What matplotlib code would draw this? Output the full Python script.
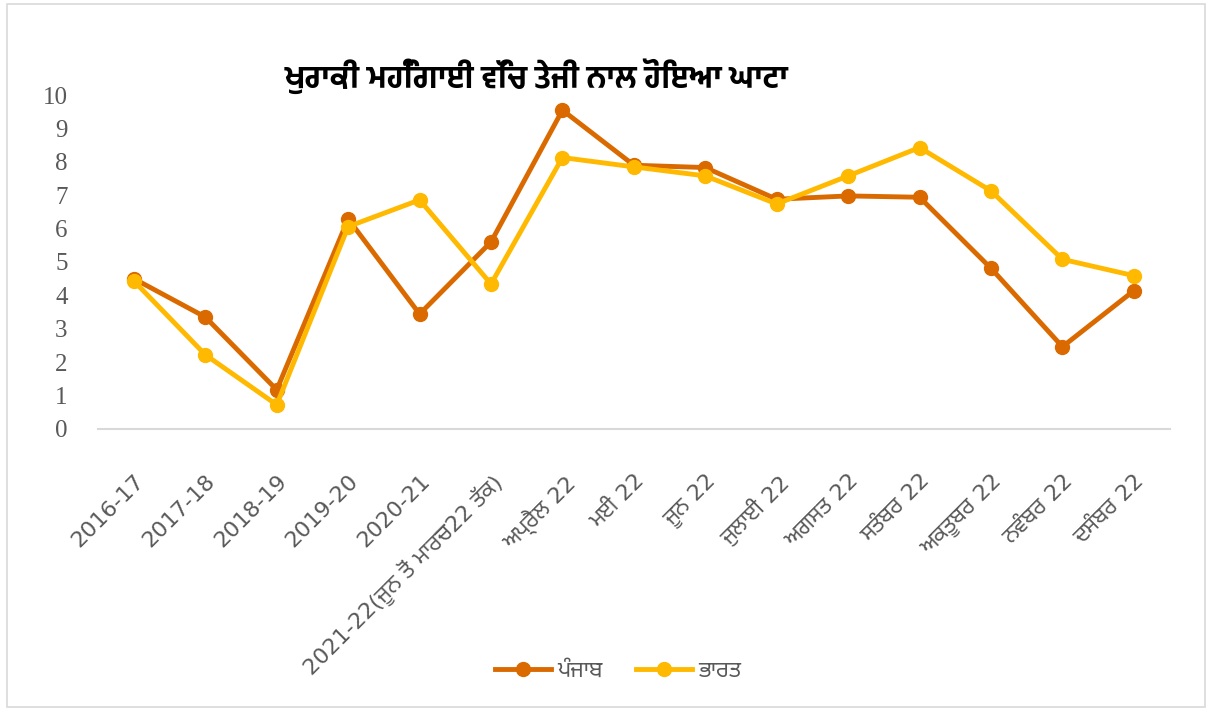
import matplotlib
matplotlib.use('Agg')
import matplotlib.pyplot as plt
from matplotlib import font_manager
from matplotlib.ft2font import FT2Font
from matplotlib.patches import Rectangle

# Pick a font with Gurmukhi glyphs
installed = {f.name for f in font_manager.fontManager.ttflist}
gurmukhi = None
for name in ['Noto Sans Gurmukhi', 'Mukta Mahee', 'Hind Jalandhar', 'FreeSans']:
    if name in installed:
        gurmukhi = name
        break
if gurmukhi is None:
    for f in font_manager.fontManager.ttflist:
        try:
            if 0x0A16 in FT2Font(f.fname).get_charmap():
                gurmukhi = f.name
                break
        except Exception:
            pass
families = ['DejaVu Sans', gurmukhi] if gurmukhi else ['DejaVu Sans']
title_font = 'Hind Jalandhar' if 'Hind Jalandhar' in installed else gurmukhi
title_families = [title_font, 'DejaVu Sans'] if title_font else ['DejaVu Sans']

# ==============================================================================
# Data
# ==============================================================================
title = 'ਖੁਰਾਕੀ ਮਹਿੰਗਾਈ ਵਿੱਚ ਤੇਜੀ ਨਾਲ ਹੋਇਆ ਘਾਟਾ'
categories = ['2016-17', '2017-18', '2018-19', '2019-20', '2020-21',
              '2021-22(ਜੂਨ ਤੋਂ ਮਾਰਚ22 ਤੱਕ)', 'ਅਪ੍ਰੈਲ 22', 'ਮਈ 22', 'ਜੂਨ 22',
              'ਜੁਲਾਈ 22', 'ਅਗਸਤ 22', 'ਸਤੰਬਰ 22', 'ਅਕਤੂਬਰ 22', 'ਨਵੰਬਰ 22',
              'ਦਸੰਬਰ 22']
punjab = [4.5, 3.35, 1.17, 6.29, 3.44, 5.6, 9.55, 7.9, 7.83, 6.88, 6.98, 6.94,
          4.81, 2.46, 4.14]
bharat = [4.43, 2.22, 0.72, 6.06, 6.86, 4.34, 8.13, 7.85, 7.58, 6.74, 7.58, 8.43,
          7.13, 5.08, 4.59]
series_names = ['ਪੰਜਾਬ', 'ਭਾਰਤ']

# ==============================================================================
# Plot
# ==============================================================================
fig = plt.figure(figsize=(12.12, 7.1), dpi=100)
ax = fig.add_axes([0.081, 0.396, 0.884, 0.470])

x = list(range(len(categories)))
ax.plot(x, punjab, color='#DA6A00', lw=3.5, marker='o', ms=10,
        label=series_names[0], clip_on=False, zorder=3)
ax.plot(x, bharat, color='#FFB900', lw=3.5, marker='o', ms=10,
        label=series_names[1], clip_on=False, zorder=4)

ax.set_xlim(-0.5, len(categories) - 0.5)
ax.set_ylim(0, 10)
ax.set_yticks(range(0, 11))
for s in ['top', 'right', 'left']:
    ax.spines[s].set_visible(False)
ax.spines['bottom'].set_color('#D9D9D9')
ax.spines['bottom'].set_linewidth(1.5)
ax.tick_params(length=0)
ax.tick_params(axis='y', pad=22)
ax.tick_params(axis='x', pad=30)

for lab in ax.get_yticklabels():
    lab.set_family('Liberation Serif')
    lab.set_fontsize(18)
    lab.set_color('#595959')

ax.set_xticks(x)
ax.set_xticklabels(categories, rotation=45, ha='right', rotation_mode='anchor',
                   fontsize=16, color='#595959', family=families)

fig.text(0.235, 0.893, title, fontsize=22, fontweight='bold', color='black',
         family=title_families, va='center')

leg = fig.legend(loc='center', bbox_to_anchor=(0.51, 0.055), ncol=2,
                 frameon=False, handlelength=2.5,
                 columnspacing=1.5, handletextpad=0.3,
                 prop={'family': families, 'size': 16})
for t in leg.get_texts():
    t.set_color('#595959')

# Chart frame
fig.patches.append(Rectangle((0.006, 0.004), 0.988, 0.99, transform=fig.transFigure,
                             fill=False, edgecolor='#D9D9D9', lw=1.2))

plt.savefig('out.png', dpi=100)
